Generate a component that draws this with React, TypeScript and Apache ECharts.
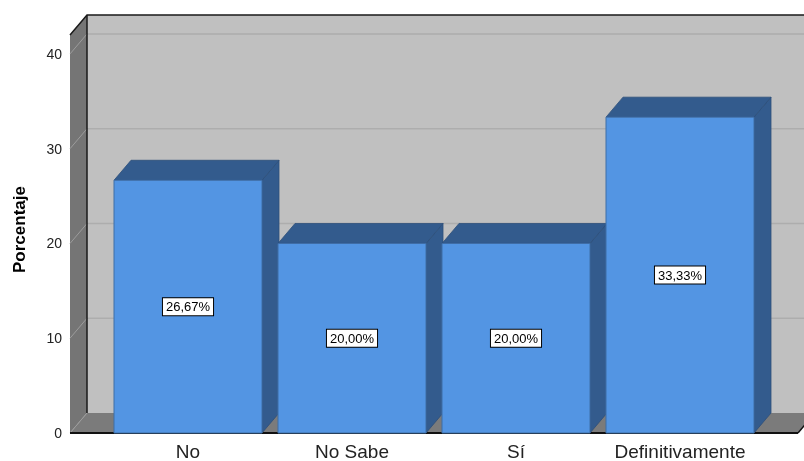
import React, { useEffect, useRef } from 'react';
import * as echarts from 'echarts';

const categories = ['No', 'No Sabe', 'Sí', 'Definitivamente'];
const percentages = [26.67, 20.0, 20.0, 33.33];
const yTicks = [0, 10, 20, 30, 40];
const yMax = 42;
const axisTitle = 'Porcentaje';

const FONT = '"Liberation Sans", Arial, sans-serif';

export default function App() {
  const ref = useRef<HTMLDivElement>(null);
  useEffect(() => {
    const chart = echarts.init(ref.current!, null, { renderer: 'svg' });
    const DX = 17;
    const DY = 20;
    const SIDE = 36;

    const wallsRender = (params: any, api: any) => {
      const cs = params.coordSys;
      const fl = cs.x - SIDE;
      const fr = cs.x + cs.width + SIDE;
      const yb = api.coord([0, 0])[1];
      const yt = api.coord([0, yMax])[1];
      const children: any[] = [];
      // back wall
      children.push({
        type: 'rect',
        shape: { x: fl + DX, y: yt - DY, width: fr - fl + 10, height: yb - yt },
        style: { fill: '#c0c0c0' },
      });
      // back wall grid lines
      yTicks.forEach((t) => {
        if (t === 0) return;
        const y = api.coord([0, t])[1] - DY;
        children.push({
          type: 'line',
          shape: { x1: fl + DX, y1: y, x2: fr + DX + 10, y2: y },
          style: { stroke: '#adadad', lineWidth: 1.5 },
        });
      });
      // left wall
      children.push({
        type: 'polygon',
        shape: {
          points: [
            [fl, yb],
            [fl + DX, yb - DY],
            [fl + DX, yt - DY],
            [fl, yt],
          ],
        },
        style: { fill: '#757575' },
      });
      // floor
      children.push({
        type: 'polygon',
        shape: {
          points: [
            [fl, yb],
            [fr, yb],
            [fr + DX, yb - DY],
            [fl + DX, yb - DY],
          ],
        },
        style: { fill: '#7b7b7b' },
      });
      // left wall grid lines
      yTicks.forEach((t) => {
        const y = api.coord([0, t])[1];
        children.push({
          type: 'line',
          shape: { x1: fl, y1: y, x2: fl + DX, y2: y - DY },
          style: { stroke: '#9c9c9c', lineWidth: 1 },
        });
      });
      // edges
      children.push({
        type: 'polyline',
        shape: {
          points: [
            [fl, yt],
            [fl + DX, yt - DY],
            [fr + DX + 10, yt - DY],
          ],
        },
        style: { stroke: '#1a1a1a', lineWidth: 1.5, fill: 'none' },
      });
      children.push({
        type: 'line',
        shape: { x1: fl + DX, y1: yt - DY, x2: fl + DX, y2: yb - DY },
        style: { stroke: '#1a1a1a', lineWidth: 1.5 },
      });
      children.push({
        type: 'line',
        shape: { x1: fl, y1: yb, x2: fr, y2: yb },
        style: { stroke: '#111', lineWidth: 2 },
      });
      children.push({
        type: 'line',
        shape: { x1: fr, y1: yb, x2: fr + DX, y2: yb - DY },
        style: { stroke: '#111', lineWidth: 1.5 },
      });
      return { type: 'group', children };
    };

    const barsRender = (params: any, api: any) => {
      const i = api.value(0);
      const v = api.value(1);
      const p = api.coord([i, v]);
      const cx = p[0];
      const yt = p[1];
      const yb = api.coord([i, 0])[1];
      const bw = (api.size([1, 0])[0] * 148) / 164;
      const x1 = cx - bw / 2;
      const x2 = cx + bw / 2;
      const dark = '#335b8d';
      const edge = '#2d4f7a';
      const label = v.toFixed(2).replace('.', ',') + '%';
      return {
        type: 'group',
        children: [
          {
            type: 'polygon',
            shape: {
              points: [
                [x2, yt],
                [x2 + DX, yt - DY],
                [x2 + DX, yb - DY],
                [x2, yb],
              ],
            },
            style: { fill: dark, stroke: edge, lineWidth: 0.8 },
          },
          {
            type: 'polygon',
            shape: {
              points: [
                [x1, yt],
                [x1 + DX, yt - DY],
                [x2 + DX, yt - DY],
                [x2, yt],
              ],
            },
            style: { fill: dark, stroke: edge, lineWidth: 0.8 },
          },
          {
            type: 'rect',
            shape: { x: x1, y: yt, width: bw, height: yb - yt },
            style: { fill: '#5395e3', stroke: '#3f6ea6', lineWidth: 1 },
          },
          {
            type: 'text',
            style: {
              text: label,
              x: cx,
              y: (yt + yb) / 2,
              align: 'center',
              verticalAlign: 'middle',
              fontSize: 13,
              lineHeight: 14,
              fontFamily: FONT,
              fill: '#000',
              backgroundColor: '#fff',
              borderColor: '#000',
              borderWidth: 1,
              padding: [2, 3, 1, 3],
            },
          },
        ],
      };
    };

    const option = {
      animation: false,
      grid: { left: 106, right: 42, top: 35, bottom: 27 },
      xAxis: {
        type: 'category',
        data: categories,
        axisLine: { show: false },
        axisTick: { show: false },
        axisLabel: {
          interval: 0,
          hideOverlap: false,
          margin: 9,
          fontSize: 19,
          fontFamily: FONT,
          color: '#222',
        },
      },
      yAxis: {
        type: 'value',
        min: 0,
        max: yMax,
        interval: 10,
        axisLine: { show: false },
        axisTick: { show: false },
        splitLine: { show: false },
        axisLabel: {
          margin: 44,
          fontSize: 14,
          fontFamily: FONT,
          color: '#222',
          formatter: (v: number) => (yTicks.includes(v) ? String(v) : ''),
        },
        name: axisTitle,
        nameLocation: 'middle',
        nameGap: 78,
        nameTextStyle: {
          fontSize: 17,
          fontWeight: 'bold',
          fontFamily: FONT,
          color: '#000',
          padding: [0, 0, 0, 9],
        },
      },
      series: [
        {
          type: 'custom',
          renderItem: wallsRender,
          data: [[0, 0]],
          clip: false,
          silent: true,
          z: 1,
        },
        {
          type: 'custom',
          renderItem: barsRender,
          data: percentages.map((v, i) => [i, v]),
          clip: false,
          z: 2,
        },
      ],
    };
    chart.setOption(option as any);
    return () => chart.dispose();
  }, []);
  return (
    <div
      ref={ref}
      style={{ position: 'fixed', left: 0, top: 0, width: 804, height: 461 }}
    />
  );
}
